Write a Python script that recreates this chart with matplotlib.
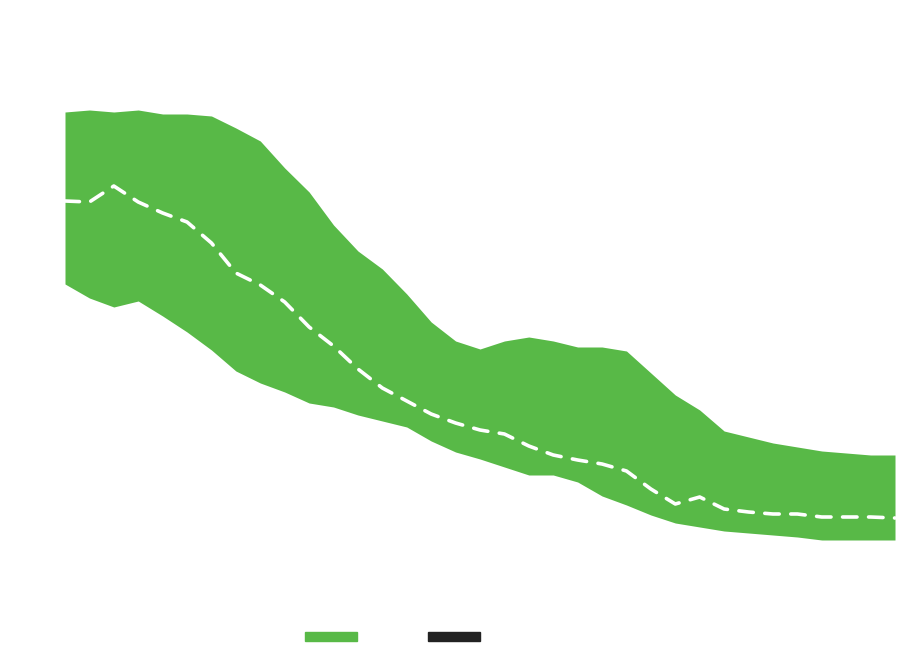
import matplotlib
matplotlib.use("Agg")
import matplotlib.pyplot as plt
from matplotlib.patches import Rectangle

# step index along x
steps = list(range(35))

# upper and lower edge of the band, and the dashed middle line
upper = [53.4, 53.6, 53.4, 53.6, 53.2, 53.2, 53.0, 51.8, 50.5, 47.8,
         45.4, 42.1, 39.5, 37.7, 35.2, 32.4, 30.5, 29.7, 30.5, 30.9,
         30.5, 29.9, 29.9, 29.5, 27.3, 25.1, 23.6, 21.5, 20.9, 20.3,
         19.9, 19.5, 19.3, 19.1, 19.1]
lower = [36.2, 34.8, 33.9, 34.5, 33.0, 31.4, 29.6, 27.5, 26.3, 25.4,
         24.3, 23.9, 23.1, 22.5, 21.9, 20.5, 19.4, 18.7, 17.9, 17.1,
         17.1, 16.4, 15.0, 14.1, 13.1, 12.3, 11.9, 11.5, 11.3, 11.1,
         10.9, 10.6, 10.6, 10.6, 10.6]
middle = [44.5, 44.4, 46.0, 44.4, 43.3, 42.4, 40.3, 37.3, 36.1, 34.4,
          31.9, 30.0, 27.7, 25.8, 24.5, 23.2, 22.3, 21.6, 21.2, 20.0,
          19.1, 18.6, 18.2, 17.5, 15.7, 14.2, 14.9, 13.7, 13.4, 13.2,
          13.2, 12.9, 12.9, 12.9, 12.8]

green = "#58b947"

fig = plt.figure(figsize=(9.06, 6.46), dpi=100)
ax = fig.add_axes([0, 0, 1, 1])
ax.fill_between(steps, lower, upper, color=green, linewidth=0)
ax.plot(steps, middle, color="white", lw=2.6, dashes=(4, 3.2),
        dash_capstyle="round", solid_capstyle="round")

# axis limits chosen so the band sits where it does in the picture
unit = 830 / 34
ax.set_xlim(-65 / unit, 34 + 11 / unit)
ax.set_ylim(0, 64.6)
ax.axis("off")

# legend swatches
fig.patches.append(Rectangle((305 / 906, 1 - 641 / 646), 52 / 906, 9 / 646,
                             transform=fig.transFigure, color=green))
fig.patches.append(Rectangle((428 / 906, 1 - 641 / 646), 52 / 906, 9 / 646,
                             transform=fig.transFigure, color="#222222"))

fig.savefig("out.png", dpi=100)
